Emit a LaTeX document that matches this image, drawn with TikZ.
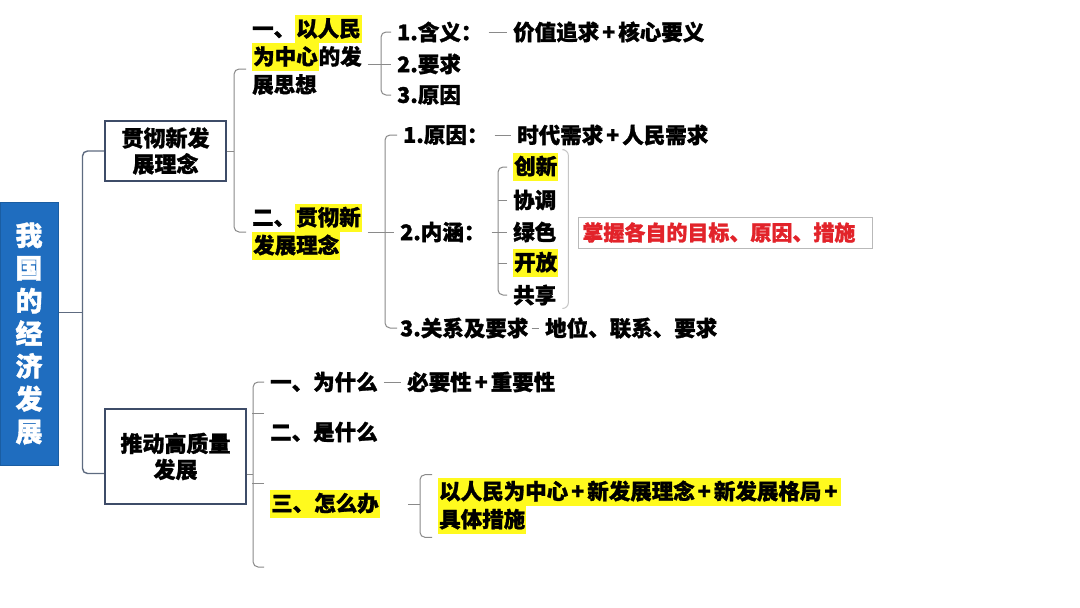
\documentclass[tikz,border=0pt]{standalone}
\usepackage{fontspec}
\setmainfont{Noto Sans CJK SC}[BoldFeatures={FakeBold=1.3}]
\definecolor{rootblue}{HTML}{1F6DBF}
\definecolor{slate}{HTML}{3E4C68}
\definecolor{trunkgray}{HTML}{5E6B80}
\definecolor{linkgray}{HTML}{8A8A8A}
\definecolor{notered}{HTML}{E2232A}
\definecolor{hlyellow}{HTML}{FFFA1E}
\newcommand{\hl}[1]{{\setlength{\fboxsep}{1pt}\colorbox{hlyellow}{\rule[-0.27em]{0pt}{1.22em}#1}}}
\newcommand{\pl}{\hspace{3pt}+\hspace{3pt}}
\setlength{\lineskiplimit}{-20pt}

\begin{document}
\begin{tikzpicture}[x=1pt,y=-1pt,
  rootnode/.style={fill=rootblue,draw=rootblue!85!black,line width=1pt,text=white,align=center,
    inner sep=0pt,minimum width=58pt,minimum height=263pt,font=\bfseries\fontsize{27}{32.7}\selectfont},
  topic/.style={draw=slate,line width=2.2pt,fill=white,align=center,inner sep=0pt,
    font=\bfseries\fontsize{22}{26}\selectfont},
  item/.style={anchor=west,align=left,inner xsep=6pt,inner ysep=3pt,
    font=\bfseries\fontsize{21.5}{28}\selectfont},
  note/.style={anchor=west,draw=gray!55,line width=0.8pt,text=notered,align=left,text width=286pt,
    inner xsep=4pt,minimum height=31pt,font=\bfseries\fontsize{21}{25}\selectfont},
  trunk/.style={draw=trunkgray,line width=1.4pt,rounded corners=5pt},
  link/.style={draw=linkgray,line width=1pt,rounded corners=5pt},
  closer/.style={draw=gray!45,line width=1pt,rounded corners=6pt}]
\path[use as bounding box,fill=white] (0,0) rectangle (1080,608);
% ================= root and topics =================
\node[rootnode] (root) at (29,333.5) {我\\国\\的\\经\\济\\发\\展};
\node[topic,minimum width=121pt,minimum height=60pt] (jd) at (165.5,151) {贯彻新发\\展理念};
\node[topic,minimum width=141pt,minimum height=95pt] (td) at (175.5,456.5) {推动高质量\\发展};
% ================= upper topic =================
\node[item] (rm) at (246,55) {一、\hl{以人民}\\\hl{为中心}的发\\展思想};
\node[item] (lx) at (246,232) {二、\hl{贯彻新}\\\hl{发展理念}};
% meaning / demands / reasons
\node[item] (hy) at (391,32) {1.含义：};
\node[item] (hyv) at (507,32) {价值追求\pl 核心要义};
\node[item] (yq) at (391,64) {2.要求};
\node[item] (yy) at (391,95) {3.原因};
% reasons / content / relations
\node[item] (yin) at (397,135) {1.原因：};
\node[item] (yinv) at (511,135) {时代需求\pl 人民需求};
\node[item] (nh) at (394,232) {2.内涵：};
\node[item] (cx) at (507,167) {\hl{创新}};
\node[item] (xt) at (507,200) {协调};
\node[item] (ls) at (507,232) {绿色};
\node[item] (kf) at (507,263) {\hl{开放}};
\node[item] (gs) at (507,295) {共享};
\node[note] (tip) at (578,232.5) {掌握各自的目标、原因、措施};
\node[item,inner xsep=3pt] (gx) at (397,328) {3.关系及要求};
\node[item] (gxv) at (539,328) {地位、联系、要求};
% ================= lower topic =================
\node[item] (ws) at (264,382) {一、为什么};
\node[item] (wsv) at (401,382) {必要性\pl 重要性};
\node[item] (ss) at (264,432) {二、是什么};
\node[item,text width=132pt] (zm) at (264,504) {\hl{三、怎么办}};
\node[item] (cs) at (432,506) {\hl{以人民为中心\pl 新发展理念\pl 新发展格局\pl}\\\hl{具体措施}};
\coordinate (tdend) at (264,567);
% ================= connectors =================
\draw[trunk] ([yshift=21pt]root.east) -- ++(24,0) coordinate (hub);
\draw[trunk] (jd.west) -| (hub) |- ([yshift=-17pt]td.west);
\draw[link] (jd.east) -- ++(7,0) coordinate (jdhub);
\draw[link] ([yshift=-14pt]rm.west) -| (jdhub) |- (lx.west);
\draw[link] (rm.east |- yq.west) -- (yq.west);
\draw[link] (hy.west) -| ([xshift=-10pt]yq.west) |- (yy.west);
\draw[link] (hy.east) -- (hyv.west);
\draw[link] (lx.east) -- (nh.west);
\draw[link] (yin.west) -| ([xshift=-9pt]nh.west) |- (gx.west);
\draw[link] (yin.east) -- (yinv.west);
\draw[link] (gx.east) -- (gxv.west);
\draw[link] (nh.east) -- (ls.west);
\draw[link] (cx.west) -| ([xshift=-9pt]ls.west) |- (gs.west);
\draw[link] (xt.west) -- ++(-9,0);
\draw[link] (kf.west) -- ++(-9,0);
\draw[closer] (cx.north east) -- ++(4,0) |- (gs.south east);
\draw[link] ([yshift=-18pt]td.east) -- ++(6,0) coordinate (tdhub);
\draw[link] (ws.west) -| (tdhub) |- (tdend);
\draw[link] ([yshift=19pt]ss.west) -- ++(-12,0);
\draw[link] ([yshift=21pt]zm.west) -- ++(-12,0);
\draw[link] (ws.east) -- (wsv.west);
\draw[link] (zm.east) -- ++(12,0);
\draw[link] (cs.north west) -- ++(-12,0) |- (cs.south west);
\end{tikzpicture}
\end{document}
